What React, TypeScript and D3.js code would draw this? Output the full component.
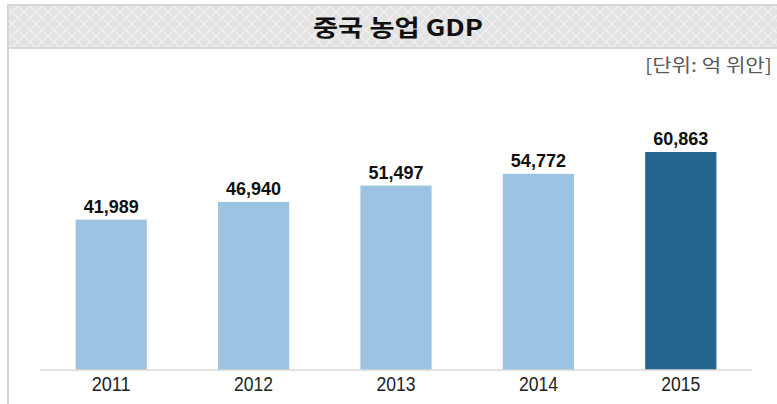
import React from "react";
import * as d3 from "d3";

const years = ["2011", "2012", "2013", "2014", "2015"];
const values = [41989, 46940, 51497, 54772, 60863];
const highlight = ["2015"];
const title = "중국 농업 GDP";
const unitLabel = "[단위: 억 위안]";

const W = 777;
const H = 404;

export default function App() {
  const x = d3
    .scaleBand<string>()
    .domain(years)
    .range([40, 752])
    .paddingInner(0.5)
    .paddingOuter(0.25);
  const y = d3.scaleLinear().domain([0, 70000]).range([370, 119.3]);
  const fmt = d3.format(",");
  const latin = "'Liberation Sans', Arial, sans-serif";
  const kr = "'Noto Sans CJK KR', 'Noto Sans', sans-serif";

  return (
    <svg
      width={W}
      height={H}
      style={{ position: "absolute", left: 0, top: 0, background: "#fff" }}
    >
      <defs>
        <pattern id="hatch" width="12" height="12" patternUnits="userSpaceOnUse">
          <rect width="12" height="12" fill="#e2e2e2" />
          <path d="M0,0 L12,12 M12,0 L0,12" stroke="#efefef" strokeWidth="1.4" />
        </pattern>
      </defs>
      <rect x={0} y={0} width={W} height={H} fill="#fff" />
      {/* title band */}
      <rect x={8} y={5} width={W - 8} height={43} fill="url(#hatch)" />
      <line x1={7} x2={W} y1={5} y2={5} stroke="#d6d6d6" strokeWidth={2} />
      <line x1={8} x2={W} y1={48} y2={48} stroke="#d2d2d2" strokeWidth={1.5} />
      <line x1={8} x2={8} y1={4} y2={H} stroke="#d6d6d6" strokeWidth={2} />
      <text
        x={398}
        y={36}
        textAnchor="middle"
        fontFamily={kr}
        fontWeight="bold"
        fontSize={23}
        fill="#111"
        textLength={170}
        lengthAdjust="spacingAndGlyphs"
      >
        {title}
      </text>
      <text
        x={772}
        y={72}
        textAnchor="end"
        fontFamily={kr}
        fontSize={18}
        fill="#595959"
        textLength={127}
        lengthAdjust="spacingAndGlyphs"
      >
        {unitLabel}
      </text>
      {/* bars */}
      {years.map((yr, i) => (
        <rect
          key={yr}
          x={x(yr)}
          y={y(values[i])}
          width={x.bandwidth()}
          height={y(0) - y(values[i])}
          fill={highlight.includes(yr) ? "#246590" : "#9cc4e2"}
        />
      ))}
      {years.map((yr, i) => (
        <text
          key={"v" + yr}
          x={(x(yr) as number) + x.bandwidth() / 2}
          y={y(values[i]) - 7}
          textAnchor="middle"
          fontFamily={latin}
          fontWeight="bold"
          fontSize={18}
          fill="#111"
        >
          {fmt(values[i])}
        </text>
      ))}
      {/* axis */}
      <line x1={40} x2={752} y1={370} y2={370} stroke="#d9d9d9" strokeWidth={1.5} />
      {years.map((yr) => (
        <text
          key={"t" + yr}
          x={(x(yr) as number) + x.bandwidth() / 2}
          y={391}
          textAnchor="middle"
          fontFamily={latin}
          fontSize={20}
          fill="#222"
          textLength={39}
          lengthAdjust="spacingAndGlyphs"
        >
          {yr}
        </text>
      ))}
    </svg>
  );
}
